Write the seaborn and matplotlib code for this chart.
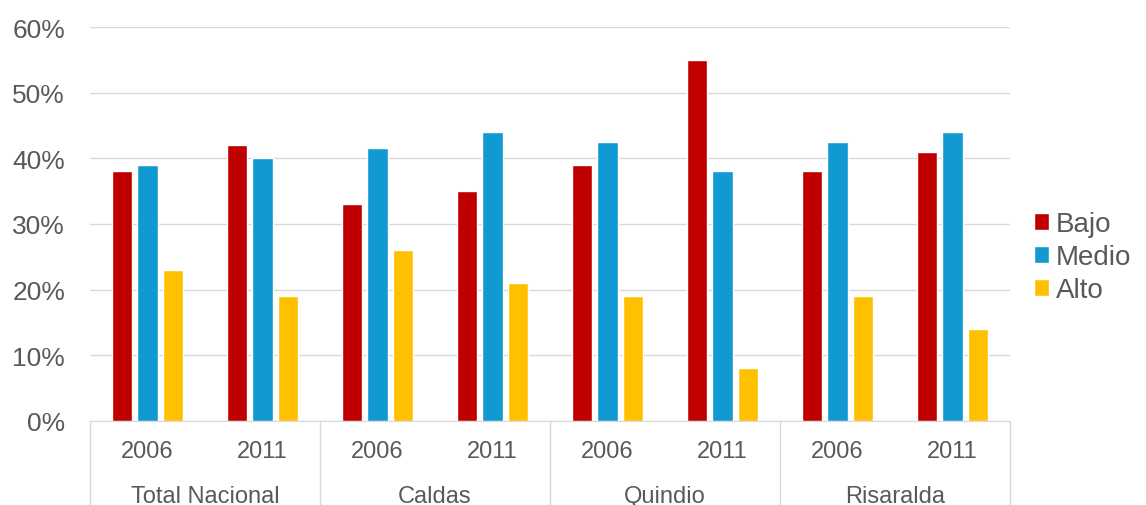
import pandas as pd
import matplotlib.pyplot as plt
import seaborn as sns
from matplotlib.patches import Patch

# data
groups = ["Total Nacional", "Caldas", "Quindio", "Risaralda"]
years = ["2006", "2011"]
levels = ["Bajo", "Medio", "Alto"]
bajo = [38, 42, 33, 35, 39, 55, 38, 41]
medio = [39, 40, 41.5, 44, 42.5, 38, 42.5, 44]
alto = [23, 19, 26, 21, 19, 8, 19, 14]
colors = ["#C00000", "#1199D2", "#FFC000"]

# long format: one row per bar
slots = [g + " " + y for g in groups for y in years]
rows = []
for vals, lev in zip([bajo, medio, alto], levels):
    for s, v in zip(slots, vals):
        rows.append({"slot": s, "nivel": lev, "valor": v})
df = pd.DataFrame(rows)

sns.set_style("white")
plt.rcParams["font.family"] = ["Liberation Sans", "DejaVu Sans"]
txt = "#595959"
grid = "#D9D9D9"

fig = plt.figure(figsize=(11.46, 5.06), dpi=100)
ax = fig.add_axes([90 / 1146, 84 / 506, 920 / 1146, 394 / 506])

sns.barplot(data=df, x="slot", y="valor", hue="nivel", order=slots,
            hue_order=levels, palette=colors, width=0.66, gap=0.2,
            saturation=1, legend=False, ax=ax)

ax.set_ylim(0, 60)
ax.set_xlim(-0.5, len(slots) - 0.5)
ax.set_yticks(range(0, 61, 10))
ax.set_yticklabels([f"{t}%" for t in range(0, 61, 10)])
ax.set_xticks(range(len(slots)))
ax.set_xticklabels(years * len(groups))
ax.tick_params(axis="both", length=0, colors=txt)
ax.tick_params(axis="x", pad=14, labelsize=17)
ax.tick_params(axis="y", pad=18, labelsize=19)
ax.set_xlabel("")
ax.set_ylabel("")
ax.yaxis.grid(True, color=grid, linewidth=1)
ax.set_axisbelow(True)
for side in ["top", "right", "left"]:
    ax.spines[side].set_visible(False)
ax.spines["bottom"].set_color(grid)

# group labels and separators under the year labels
xt = ax.get_xaxis_transform()
for i, g in enumerate(groups):
    ax.text(2 * i + 0.5, -0.19, g, transform=xt, ha="center", va="center",
            fontsize=17, color=txt)
for b in range(0, len(slots) + 1, 2):
    ax.plot([b - 0.5, b - 0.5], [0, -0.3], transform=xt, color=grid,
            linewidth=1, clip_on=False)

handles = [Patch(facecolor=c, label=l) for c, l in zip(colors, levels)]
fig.legend(handles=handles, loc="center left", bbox_to_anchor=(1034 / 1146, 0.49),
           frameon=False, fontsize=20, handlelength=0.55, handleheight=0.55,
           handletextpad=0.25, labelspacing=0.25, labelcolor=txt,
           borderpad=0, borderaxespad=0)

fig.savefig("out.png", dpi=100)
